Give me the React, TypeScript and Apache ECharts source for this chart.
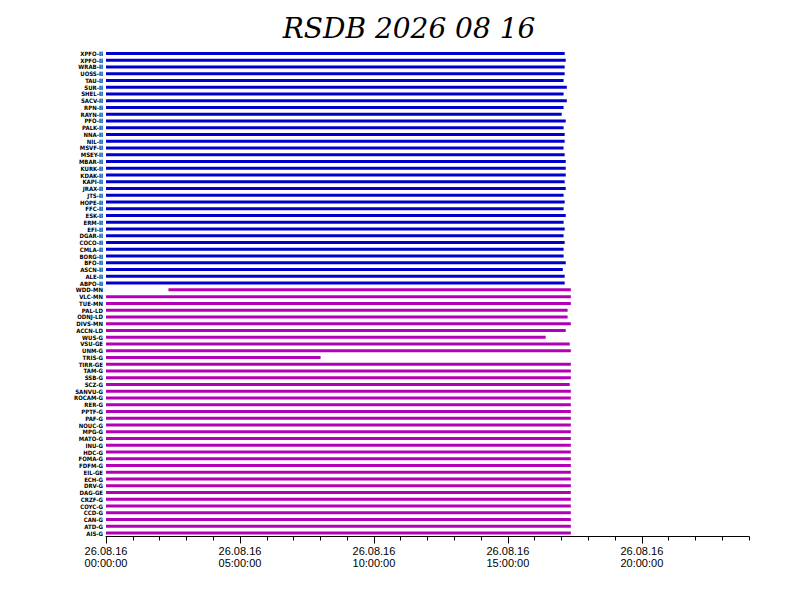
import React, { useEffect, useRef } from "react";
import * as echarts from "echarts";

const titleText = "RSDB 2026 08 16";

const blueStations = [
  "XPFO-II", "XPFO-II", "WRAB-II", "UOSS-II", "TAU-II", "SUR-II", "SHEL-II", "SACV-II",
  "RPN-II", "RAYN-II", "PFO-II", "PALK-II", "NNA-II", "NIL-II", "MSVF-II", "MSEY-II",
  "MBAR-II", "KURK-II", "KDAK-II", "KAPI-II", "JRAX-II", "JTS-II", "HOPE-II", "FFC-II",
  "ESK-II", "ERM-II", "EFI-II", "DGAR-II", "COCO-II", "CMLA-II", "BORG-II", "BFO-II",
  "ASCN-II", "ALE-II", "ABPO-II",
];
const blueStarts = [
  0, 0, 0, 0, 0, 0, 0, 0, 0, 0, 0, 0, 0, 0, 0, 0, 0, 0, 0, 0, 0, 0, 0, 0, 0, 0, 0, 0, 0, 0,
  0, 0, 0, 0, 0,
];
const blueEnds = [
  17.12, 17.16, 17.12, 17.12, 17.08, 17.2, 17.08, 17.2, 17.08, 17.01, 17.16, 17.08, 17.12,
  17.12, 17.08, 17.12, 17.16, 17.16, 17.16, 17.12, 17.16, 17.08, 17.12, 17.08, 17.16, 17.08,
  17.12, 17.08, 17.12, 17.08, 17.08, 17.16, 17.05, 17.12, 17.12,
];

const magentaStations = [
  "WDD-MN", "VLC-MN", "TUE-MN", "PAL-LD", "ODNJ-LD", "DIVS-MN", "ACCN-LD", "WUS-G",
  "VSU-GE", "UNM-G", "TRIS-G", "TIRR-GE", "TAM-G", "SSB-G", "SCZ-G", "SANVU-G", "ROCAM-G",
  "RER-G", "PPTF-G", "PAF-G", "NOUC-G", "MPG-G", "MATO-G", "INU-G", "HDC-G", "FOMA-G",
  "FDFM-G", "EIL-GE", "ECH-G", "DRV-G", "DAG-GE", "CRZF-G", "COYC-G", "CCD-G", "CAN-G",
  "ATD-G", "AIS-G",
];
const magentaStarts = [
  2.33, 0, 0, 0, 0, 0, 0, 0, 0, 0, 0, 0, 0, 0, 0, 0, 0, 0, 0, 0, 0, 0, 0, 0, 0, 0, 0, 0, 0,
  0, 0, 0, 0, 0, 0, 0, 0,
];
const magentaEnds = [
  17.35, 17.35, 17.35, 17.23, 17.23, 17.35, 17.16, 16.41, 17.31, 17.35, 8.01, 17.35, 17.35,
  17.35, 17.31, 17.35, 17.35, 17.35, 17.35, 17.35, 17.35, 17.35, 17.35, 17.35, 17.35, 17.35,
  17.35, 17.35, 17.35, 17.35, 17.35, 17.35, 17.35, 17.35, 17.35, 17.35, 17.35,
];

const hourTicks = [0, 1, 2, 3, 4, 5, 6, 7, 8, 9, 10, 11, 12, 13, 14, 15, 16, 17, 18, 19, 20, 21, 22, 23, 24];
const majorHours = [0, 5, 10, 15, 20];
const tickDates = ["26.08.16", "26.08.16", "26.08.16", "26.08.16", "26.08.16"];
const tickTimes = ["00:00:00", "05:00:00", "10:00:00", "15:00:00", "20:00:00"];

const BLUE = "#0000c8";
const MAGENTA = "#b400b4";

export default function App() {
  const ref = useRef<HTMLDivElement>(null);

  useEffect(() => {
    if (!ref.current) return;
    const chart = echarts.init(ref.current, undefined, { renderer: "svg" });

    const stations = [...blueStations, ...magentaStations];
    const starts = [...blueStarts, ...magentaStarts];
    const ends = [...blueEnds, ...magentaEnds];
    const colors = [...blueStations.map(() => BLUE), ...magentaStations.map(() => MAGENTA)];

    chart.setOption({
      animation: false,
      backgroundColor: "#ffffff",
      graphic: [
        {
          type: "text",
          x: 409,
          y: 28,
          style: {
            text: titleText,
            fill: "#000000",
            font: "italic 28px 'DejaVu Serif', serif",
            align: "center",
            verticalAlign: "middle",
          },
        },
      ],
      grid: { left: 106, right: 43, top: 50, bottom: 75.5, containLabel: false },
      xAxis: [
        {
          type: "value",
          min: 0,
          max: 24,
          position: "bottom",
          axisLine: { show: true, lineStyle: { color: "#000", width: 1 } },
          axisTick: { show: true, customValues: hourTicks, length: 4, inside: false, lineStyle: { color: "#000" } },
          axisLabel: { show: false },
          splitLine: { show: false },
        },
        {
          type: "value",
          min: 0,
          max: 24,
          position: "bottom",
          offset: 0,
          axisLine: { show: false },
          axisTick: { show: true, customValues: majorHours, length: 7, inside: false, lineStyle: { color: "#000" } },
          axisLabel: {
            show: true,
            customValues: majorHours,
            margin: 8,
            color: "#000",
            fontFamily: "'Liberation Sans', Arial, sans-serif",
            fontSize: 11,
            lineHeight: 12,
            formatter: (v: number) => {
              const i = majorHours.indexOf(v);
              return i >= 0 ? `${tickDates[i]}\n${tickTimes[i]}` : "";
            },
          },
          splitLine: { show: false },
        },
      ],
      yAxis: {
        type: "category",
        inverse: true,
        data: stations,
        axisLine: { show: false },
        axisTick: { show: false },
        splitLine: { show: false },
        axisLabel: {
          interval: 0,
          margin: 3,
          color: "#000",
          fontSize: 6,
          fontWeight: "bold",
          fontFamily: "'DejaVu Sans Condensed', 'DejaVu Sans', sans-serif",
        },
      },
      series: [
        {
          type: "bar",
          stack: "t",
          xAxisIndex: 0,
          silent: true,
          barWidth: 3,
          itemStyle: { color: "rgba(0,0,0,0)" },
          data: starts,
        },
        {
          type: "bar",
          stack: "t",
          xAxisIndex: 0,
          barWidth: 3,
          data: ends.map((e, i) => ({
            value: +(e - starts[i]).toFixed(2),
            itemStyle: { color: colors[i] },
          })),
        },
      ],
    });

    return () => chart.dispose();
  }, []);

  return (
    <div
      ref={ref}
      style={{ position: "fixed", left: 0, top: 0, width: 792, height: 612, background: "#fff" }}
    />
  );
}
